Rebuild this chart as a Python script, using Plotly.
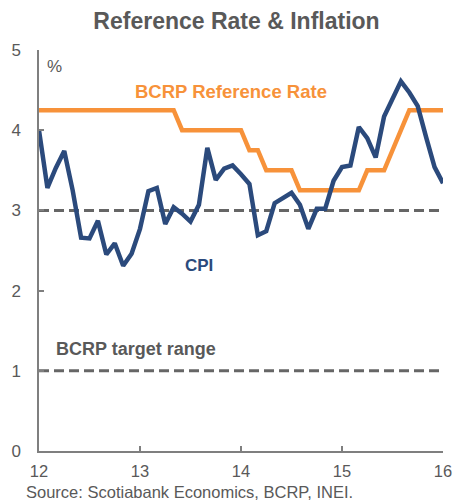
import plotly.graph_objects as go

# Monthly data, 49 points spanning axis labels 12 -> 16
cpi = [4.00, 3.28, 3.53, 3.74, 3.25, 2.66, 2.65, 2.87, 2.45, 2.59, 2.31, 2.46, 2.77,
       3.24, 3.28, 2.83, 3.04, 2.96, 2.86, 3.07, 3.78, 3.38, 3.52, 3.56, 3.45, 3.33,
       2.69, 2.74, 3.09, 3.16, 3.22, 3.07, 2.77, 3.02, 3.02, 3.37, 3.54, 3.56, 4.04,
       3.90, 3.66, 4.17, 4.40, 4.61, 4.47, 4.30, 3.91, 3.54, 3.34]
ref_rate = ([4.25] * 17 + [4.00] * 8 + [3.75] * 2 + [3.50] * 4 + [3.25] * 8
            + [3.50] * 3 + [3.75] + [4.00] + [4.25] * 5)
x_vals = [12 + i / 12 for i in range(len(cpi))]
target_upper = [3.0] * len(cpi)
target_lower = [1.0] * len(cpi)
x_ticks = [12, 13, 14, 15, 16]
y_ticks = [0, 1, 2, 3, 4, 5]

FONT = "Liberation Sans, Arial, sans-serif"
GRAY = "#595959"
NAVY = "#2B4A7C"
ORANGE = "#F7923A"

# page has an 8px body margin, so the figure is sized to fit the window
W, H = 457, 495

fig = go.Figure()
fig.add_trace(go.Scatter(x=x_vals, y=target_upper, mode="lines",
                         line=dict(color="#666666", width=3, dash="10px,5px")))
fig.add_trace(go.Scatter(x=x_vals, y=target_lower, mode="lines",
                         line=dict(color="#666666", width=3, dash="10px,5px")))
fig.add_trace(go.Scatter(x=x_vals, y=ref_rate, mode="lines",
                         line=dict(color=ORANGE, width=4.5)))
fig.add_trace(go.Scatter(x=x_vals, y=cpi, mode="lines",
                         line=dict(color=NAVY, width=4.5)))

fig.update_layout(
    width=W, height=H,
    margin=dict(l=31, r=22, t=42, b=52),
    paper_bgcolor="white", plot_bgcolor="white",
    showlegend=False,
    font=dict(family=FONT, color=GRAY, size=17),
    title=dict(text="<b>Reference Rate & Inflation</b>", x=0.5, xanchor="center",
               y=1 - 13 / H, yanchor="middle", yref="container",
               font=dict(size=23, color=GRAY, family=FONT)),
)
fig.update_xaxes(range=[12, 16], tickvals=x_ticks, ticktext=[str(t) for t in x_ticks],
                 ticks="inside", ticklen=5, tickcolor="#7f7f7f", tickwidth=1.5,
                 showline=True, linecolor="#7f7f7f", linewidth=1.5,
                 showgrid=False, zeroline=False, ticklabelstandoff=4,
                 automargin=False, tickfont=dict(size=16.5, color=GRAY))
fig.update_yaxes(range=[0, 5], tickvals=y_ticks,
                 ticks="inside", ticklen=5, tickcolor="#7f7f7f", tickwidth=1.5,
                 showline=True, linecolor="#7f7f7f", linewidth=1.5,
                 showgrid=False, zeroline=False, ticklabelstandoff=13,
                 automargin=False, tickfont=dict(size=17, color=GRAY))

fig.add_annotation(x=12.06, y=4.79, text="%", showarrow=False, xanchor="left",
                   font=dict(size=17, color=GRAY))
fig.add_annotation(x=13.90, y=4.48, text="<b>BCRP Reference Rate</b>", showarrow=False,
                   font=dict(size=18.5, color=ORANGE))
fig.add_annotation(x=13.58, y=2.31, text="<b>CPI</b>", showarrow=False,
                   font=dict(size=17, color=NAVY))
fig.add_annotation(x=12.15, y=1.27, text="<b>BCRP target range</b>", showarrow=False,
                   xanchor="left", font=dict(size=18, color=GRAY))
fig.add_annotation(x=-0.037, y=-0.102, xref="paper", yref="paper",
                   text="Source: Scotiabank Economics, BCRP, INEI.", showarrow=False,
                   xanchor="left", yanchor="middle", font=dict(size=16.5, color=GRAY))

fig.write_html("out.html")
